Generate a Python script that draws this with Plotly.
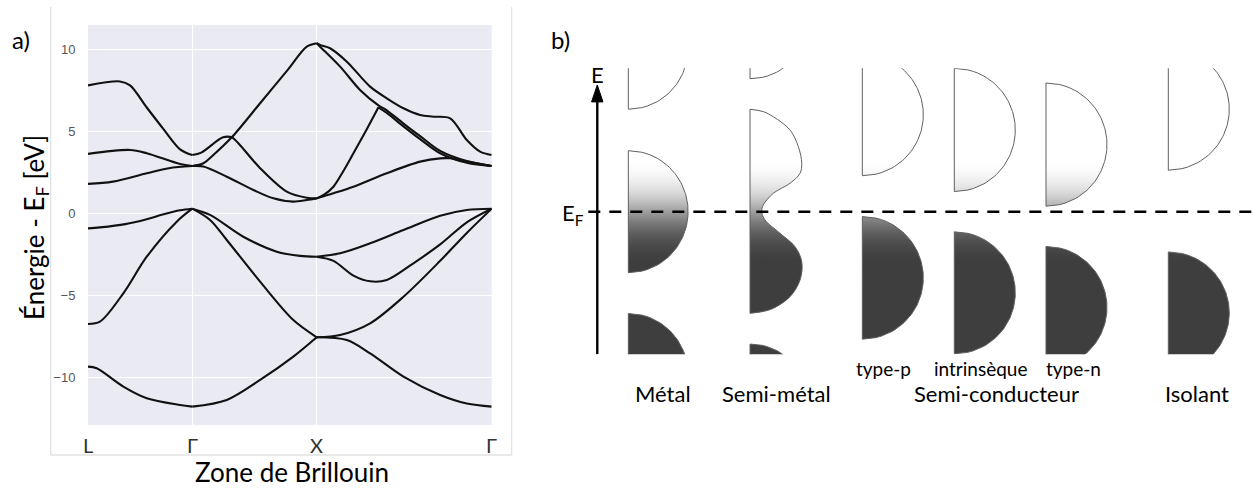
import math
import plotly.graph_objects as go

W, H = 1254, 488

# ---------------- panel a) : band structure ----------------
K_SYM = [0.0, 0.838, 1.838, 3.244]
K_LABELS = ["L", "Γ", "X", "Γ"]
E_TICKS = [-10, -5, 0, 5, 10]

BAND1_K = [0.0, 0.07, 0.284, 0.472, 0.74, 0.838, 1.115, 1.383, 1.65, 1.838, 2.08, 2.267, 2.535, 2.83, 3.044, 3.244]
BAND1_E = [-9.35, -9.45, -10.57, -11.28, -11.69, -11.79, -11.38, -10.16, -8.74, -7.56, -7.73, -8.54, -9.96, -11.08, -11.6, -11.79]

BAND2_K = [0.0, 0.096, 0.284, 0.472, 0.713, 0.838, 0.981, 1.115, 1.383, 1.65, 1.838, 2.026, 2.267, 2.535, 2.83, 3.044, 3.244]
BAND2_E = [-6.75, -6.61, -4.88, -2.65, -0.51, 0.28, -0.41, -1.63, -4.17, -6.51, -7.56, -7.42, -6.71, -5.09, -2.9, -1.2, 0.28]

BAND3_K = [0.0, 0.096, 0.3, 0.472, 0.6, 0.74, 0.838, 0.981, 1.248, 1.517, 1.704, 1.838, 1.972, 2.133, 2.267, 2.401, 2.615, 2.83, 3.044, 3.244]
BAND3_E = [-0.92, -0.86, -0.66, -0.36, -0.08, 0.18, 0.28, -0.10, -1.43, -2.34, -2.60, -2.65, -2.9, -3.8, -4.15, -4.07, -3.05, -1.9, -0.55, 0.28]

BAND4_K = [1.838, 2.026, 2.267, 2.535, 2.83, 3.044, 3.244]
BAND4_E = [-2.65, -2.44, -1.83, -1.02, -0.15, 0.2, 0.28]

BAND5_K = [0.0, 0.2, 0.472, 0.65, 0.838, 0.927, 1.115, 1.329, 1.49, 1.65, 1.758, 1.838, 1.972, 2.133, 2.401, 2.669, 2.83, 2.91, 3.044, 3.244]
BAND5_E = [1.79, 1.93, 2.44, 2.75, 2.88, 2.85, 2.23, 1.42, 0.91, 0.71, 0.81, 0.91, 1.22, 1.62, 2.44, 3.15, 3.35, 3.35, 3.15, 2.88]

BAND6_K = [0.0, 0.338, 0.472, 0.74, 0.838, 0.927, 1.007, 1.155, 1.383, 1.6, 1.758, 1.838, 1.865, 2.026, 2.186, 2.334, 2.401, 2.535, 2.669, 2.83, 3.044, 3.244]
BAND6_E = [3.62, 3.86, 3.66, 3.0, 2.88, 3.05, 3.55, 4.63, 6.71, 8.7, 10.16, 10.37, 10.16, 8.94, 7.52, 6.58, 6.28, 5.47, 4.7, 3.8, 3.18, 2.88]

BAND7_K = [0.0, 0.257, 0.338, 0.472, 0.605, 0.74, 0.838, 0.91, 1.085, 1.155, 1.208, 1.383, 1.597, 1.758, 1.838, 1.9, 1.972, 2.05, 2.133, 2.24, 2.334, 2.401, 2.535, 2.669, 2.83, 3.044, 3.244]
BAND7_E = [7.8, 8.04, 7.8, 6.45, 5.15, 3.9, 3.55, 3.7, 4.63, 4.63, 4.27, 2.75, 1.32, 0.95, 0.91, 1.15, 1.62, 2.55, 3.66, 5.12, 6.46, 6.12, 5.3, 4.52, 3.66, 3.08, 2.88]

BAND8_K = [1.838, 1.865, 1.945, 2.08, 2.267, 2.401, 2.535, 2.669, 2.776, 2.91, 3.044, 3.151, 3.244]
BAND8_E = [10.37, 10.26, 10.06, 9.24, 7.72, 7.01, 6.4, 5.99, 5.89, 5.79, 4.47, 3.76, 3.55]

# extra break points (sharp crossings) per band
BAND7_KINKS = [2.334]

BANDS = [
    (BAND1_K, BAND1_E, []),
    (BAND2_K, BAND2_E, []),
    (BAND3_K, BAND3_E, []),
    (BAND4_K, BAND4_E, []),
    (BAND5_K, BAND5_E, []),
    (BAND6_K, BAND6_E, []),
    (BAND7_K, BAND7_E, BAND7_KINKS),
    (BAND8_K, BAND8_E, []),
]

# ---------------- panel b) : density-of-states sketches ----------------
# energies in units of one band half-height, E_F = 0
METAL_BANDS = [(1.68, 3.68), (-1.00, 1.00), (-3.67, -1.67)]
SEMIMETAL_OUTER_BANDS = [(2.18, 3.88), (-3.87, -2.17)]
SEMIMETAL_PROFILE_E = [1.68, 1.64, 1.557, 1.339, 1.066, 0.793, 0.63, 0.466, 0.302, 0.11, 0.0,
                       -0.136, -0.354, -0.574, -0.82, -1.12, -1.393, -1.584, -1.635, -1.666]
SEMIMETAL_PROFILE_W = [0.0, 0.22, 0.382, 0.656, 0.792, 0.848, 0.82, 0.656, 0.382, 0.218, 0.192,
                       0.246, 0.492, 0.738, 0.848, 0.82, 0.656, 0.382, 0.22, 0.0]
TYPE_P_BANDS = [(0.59, 2.59), (-2.09, -0.08)]
INTRINSIC_BANDS = [(0.33, 2.35), (-2.33, -0.33)]
TYPE_N_BANDS = [(0.09, 2.11), (-2.57, -0.57)]
INSULATOR_BANDS = [(0.68, 2.68), (-2.66, -0.66)]

GROUP_LABELS = ["Métal", "Semi-métal", "Semi-conducteur", "Isolant"]
SUB_LABELS = ["type-p", "intrinsèque", "type-n"]

# layout of panel b (x in DOS units, 61 px each)
COL_X0 = {"metal": 1.448, "semimetal": 3.443, "p": 5.284, "i": 6.792, "n": 8.295, "iso": 10.30}
PB_XRANGE = [0.0, 11.705]
PB_YRANGE = [-2.338, 2.351]
AXIS_X = 0.939
DASH_X0 = 0.792

# occupation shading (Fermi–Dirac), normalised between the gradient ends
KT = 0.25
DARK = 62
G_START, G_STOP = -0.8, 0.8
OUTLINE = "#606060"


def fermi(e):
    return 1.0 / (1.0 + math.exp(e / KT))


def fermi_gray(e):
    f0, f1 = fermi(G_STOP), fermi(G_START)
    f = (fermi(e) - f0) / (f1 - f0)
    g = round(255 - (255 - DARK) * f)
    return f"rgb({g},{g},{g})"


FERMI_SCALE = [[i / 20, fermi_gray(G_START + (G_STOP - G_START) * i / 20)] for i in range(21)]


def px2x(px):
    return px / W


def py2y(py):
    return 1 - py / H


def split_band(ks, es, cuts):
    segs = []
    cur_k, cur_e = [ks[0]], [es[0]]
    for k, e in zip(ks[1:], es[1:]):
        cur_k.append(k)
        cur_e.append(e)
        if any(abs(k - c) < 1e-9 for c in cuts):
            segs.append((cur_k, cur_e))
            cur_k, cur_e = [k], [e]
    if len(cur_k) > 1:
        segs.append((cur_k, cur_e))
    return segs


fig = go.Figure()

for ks, es, kinks in BANDS:
    for sk, se in split_band(ks, es, K_SYM + kinks):
        fig.add_trace(go.Scatter(
            x=sk, y=se, mode="lines", xaxis="x", yaxis="y",
            line=dict(color="#111111", width=2.1, shape="spline", smoothing=0.9),
            showlegend=False, hoverinfo="skip"))


def half_ellipse(x0, lo, hi, width):
    """Closed outline of a half-ellipse DOS lobe with its flat side at x0."""
    c = 0.5 * (lo + hi)
    h = 0.5 * (hi - lo)
    n = 80
    xs, ys = [x0], [lo]
    for i in range(n + 1):
        e = lo + (hi - lo) * i / n
        t = (e - c) / h
        xs.append(x0 + width * math.sqrt(max(0.0, 1 - t * t)))
        ys.append(e)
    xs += [x0, x0]
    ys += [hi, lo]
    return xs, ys


def add_dos(xs, ys, spline=False):
    fig.add_trace(go.Scatter(
        x=xs, y=ys, xaxis="x2", yaxis="y2", mode="lines", fill="toself",
        fillgradient=dict(type="vertical", colorscale=FERMI_SCALE, start=G_START, stop=G_STOP),
        line=dict(color=OUTLINE, width=1, shape="spline" if spline else "linear"),
        showlegend=False, hoverinfo="skip"))


for lo, hi in METAL_BANDS:
    add_dos(*half_ellipse(COL_X0["metal"], lo, hi, 0.98))
for lo, hi in SEMIMETAL_OUTER_BANDS:
    add_dos(*half_ellipse(COL_X0["semimetal"], lo, hi, 0.9))
# semi-metal: two overlapping lobes (smooth outline) plus its straight flat side
sm_x0 = COL_X0["semimetal"]
add_dos([sm_x0 + w for w in SEMIMETAL_PROFILE_W], SEMIMETAL_PROFILE_E, spline=True)
fig.add_trace(go.Scatter(
    x=[sm_x0, sm_x0], y=[SEMIMETAL_PROFILE_E[0], SEMIMETAL_PROFILE_E[-1]], xaxis="x2", yaxis="y2",
    mode="lines", line=dict(color=OUTLINE, width=1), showlegend=False, hoverinfo="skip"))
for key, bands in (("p", TYPE_P_BANDS), ("i", INTRINSIC_BANDS), ("n", TYPE_N_BANDS), ("iso", INSULATOR_BANDS)):
    for lo, hi in bands:
        add_dos(*half_ellipse(COL_X0[key], lo, hi, 1.0))

TEXT_FONT = "Lato, 'Noto Sans', sans-serif"

shapes = [
    # seaborn-like panel background
    dict(type="rect", xref="x domain", yref="y domain", x0=0, x1=1, y0=0, y1=1,
         fillcolor="#EAEAF2", line=dict(width=0), layer="below"),
    # light frame around panel a
    dict(type="line", xref="paper", yref="paper", x0=px2x(50.7), x1=px2x(50.7), y0=py2y(7), y1=py2y(455),
         line=dict(color="#e2e2e2", width=1.3), layer="below"),
    dict(type="line", xref="paper", yref="paper", x0=px2x(50.7), x1=px2x(511.7), y0=py2y(455), y1=py2y(455),
         line=dict(color="#e2e2e2", width=1.3), layer="below"),
    dict(type="line", xref="paper", yref="paper", x0=px2x(511.7), x1=px2x(511.7), y0=py2y(7), y1=py2y(455),
         line=dict(color="#e2e2e2", width=1.3), layer="below"),
    # energy axis of panel b
    dict(type="line", xref="x2", yref="y2", x0=AXIS_X, x1=AXIS_X, y0=PB_YRANGE[0], y1=1.82,
         line=dict(color="black", width=2.4)),
    dict(type="path", xref="x2", yref="y2",
         path=f"M {AXIS_X - 0.094},1.80 L {AXIS_X + 0.094},1.80 L {AXIS_X},2.077 Z",
         fillcolor="black", line=dict(color="black", width=1)),
    # Fermi level
    dict(type="line", xref="x2", yref="y2", x0=DASH_X0, x1=PB_XRANGE[1], y0=0, y1=0,
         line=dict(color="black", width=2.4, dash="12px,9px")),
]

annotations = [
    dict(text="a)", x=px2x(21), y=py2y(40), font=dict(size=24)),
    dict(text="b)", x=px2x(560), y=py2y(40), font=dict(size=24)),
    dict(text="Énergie - E<sub>F</sub> [eV]", x=px2x(36), y=py2y(228), textangle=-90, font=dict(size=26)),
    dict(text="Zone de Brillouin", x=px2x(292), y=py2y(472), font=dict(size=26)),
    dict(text="E", x=px2x(597.3), y=py2y(75), font=dict(size=22)),
    dict(text="E<sub>F</sub>", x=px2x(586), y=py2y(214), xanchor="right", font=dict(size=22)),
]
# high-symmetry point labels under panel a
for lab, k in zip(K_LABELS, K_SYM):
    annotations.append(dict(text=lab, x=k, xref="x", y=py2y(445),
                            font=dict(size=20, color="#333333")))
for lab, cx in zip(GROUP_LABELS, [662.5, 776.5, 996, 1197]):
    annotations.append(dict(text=lab, x=px2x(cx), y=py2y(393), font=dict(size=22)))
for lab, cx in zip(SUB_LABELS, [883, 980.5, 1073]):
    annotations.append(dict(text=lab, x=px2x(cx), y=py2y(368), font=dict(size=19)))
for a in annotations:
    a.setdefault("xref", "paper")
    a.setdefault("yref", "paper")
    a.setdefault("showarrow", False)
    a.setdefault("xanchor", "center")
    a.setdefault("yanchor", "middle")
    fnt = dict(family=TEXT_FONT, color="black")
    fnt.update(a["font"])
    a["font"] = fnt

fig.update_layout(
    width=W, height=H,
    margin=dict(l=0, r=0, t=0, b=0),
    paper_bgcolor="white", plot_bgcolor="white",
    showlegend=False,
    xaxis=dict(domain=[px2x(88), px2x(491.7)], range=[K_SYM[0], K_SYM[-1]],
               tickvals=K_SYM, showticklabels=False, showgrid=True, gridcolor="white", gridwidth=1.4,
               zeroline=False, showline=False, ticks=""),
    yaxis=dict(domain=[py2y(425), py2y(25)], range=[-12.91, 11.48],
               tickvals=E_TICKS, showgrid=True, gridcolor="white", gridwidth=1.4,
               zeroline=False, showline=False, ticks="outside", ticklen=9, tickcolor="rgba(0,0,0,0)",
               tickfont=dict(family="'Liberation Sans', Arial, sans-serif", size=13, color="#555555")),
    xaxis2=dict(domain=[px2x(540), 1.0], range=PB_XRANGE, visible=False, anchor="y2"),
    yaxis2=dict(domain=[py2y(354.3), py2y(68.3)], range=PB_YRANGE, visible=False, anchor="x2"),
    shapes=shapes,
    annotations=annotations,
)

fig.write_html("out.html", config={"displayModeBar": False},
               post_script="document.body.style.margin='0';")
